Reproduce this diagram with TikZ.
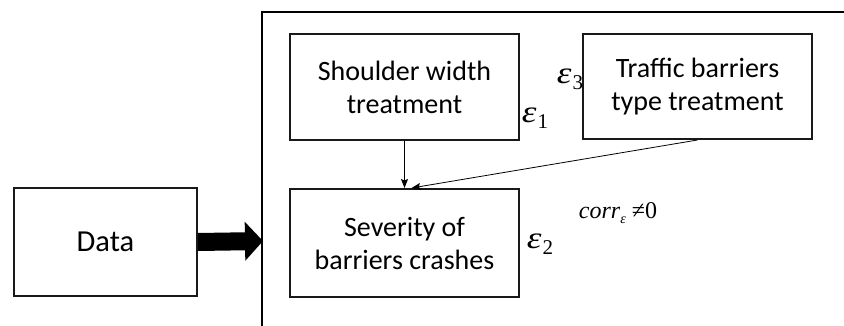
\documentclass[tikz,border=0pt]{standalone}
\usepackage{graphicx}
\usepackage{fontspec}
\setmainfont{Carlito}
\newfontfamily\mathlike{Liberation Serif}
\usetikzlibrary{arrows.meta}
% error term: wide italic epsilon with an upright lowered index
\newcommand{\errterm}[1]{\scalebox{1.2}[1]{\mathlike\itshape ε}\kern1pt\raisebox{-0.2em}{\fontsize{21}{21}\selectfont\mathlike #1}}
\begin{document}
\begin{tikzpicture}[x=1pt,y=-1pt,
  box/.style={draw=black!90,line width=2pt,rectangle,align=center,
    inner sep=0pt,font=\fontsize{28}{33}\selectfont},
  link/.style={line width=0.8pt,-{Stealth[length=9pt,width=7pt,inset=1.5pt]}},
  err/.style={inner sep=0pt,font=\fontsize{31}{31}\selectfont}]
\useasboundingbox (0,0) rectangle (844,326);
% open frame around the model
\coordinate (frameTR) at (846,12);
\coordinate (frameBL) at (262,328);
\draw[line width=2pt] (frameTR) -| (frameBL);
% boxes
\node[box,minimum width=183pt,minimum height=108pt,font=\fontsize{30.5}{33}\selectfont] (data) at (105.5,242) {Data};
\node[box,minimum width=229pt,minimum height=106pt] (shoulder) at (404.5,87) {Shoulder width\\treatment};
\node[box,minimum width=229pt,minimum height=105pt] (traffic) at (697.5,86.5) {Traffic barriers\\type treatment};
\node[box,minimum width=229pt,minimum height=108pt] (severity) at (404.5,243) {Severity of\\barriers crashes};
% error terms
\node[err] (e1) at (535,118) {\errterm{1}};
\node[err] (e3) at (570,79) {\errterm{3}};
\node[err] (e2) at (540,244) {\errterm{2}};
\node[inner sep=0pt,font=\fontsize{24}{24}\selectfont\mathlike] (corr) at (618,213)
  {\textit{corr}\raisebox{-0.2em}{\fontsize{14}{14}\selectfont\itshape ε} ≠0};
% data feeds the model
\coordinate (entry) at (263,241);
\draw[line width=18pt,-{Triangle[length=18pt,width=38pt]}] (data.east) -- (entry);
% causal links
\coordinate (sevIn) at ([xshift=7pt]severity.north);
\draw[link] (shoulder.south) -- (severity.north);
\draw[link] (traffic.south) -- (sevIn);
\end{tikzpicture}
\end{document}
